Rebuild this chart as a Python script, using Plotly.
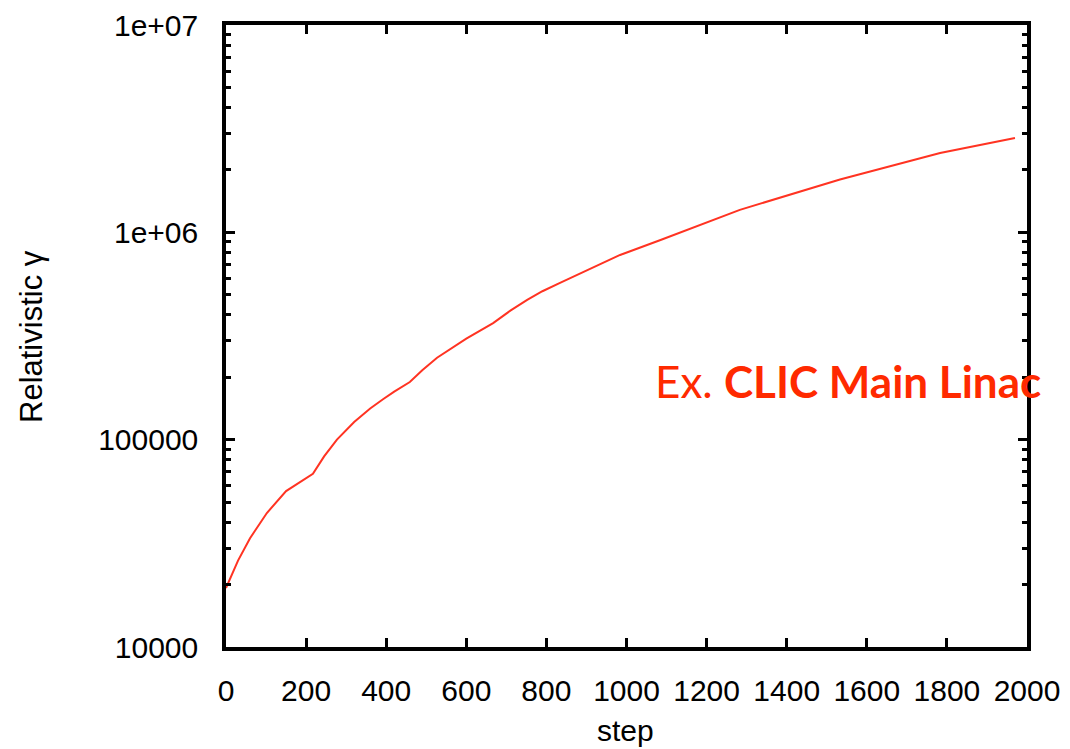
import plotly.graph_objects as go

# Data
steps = [0, 30, 60, 102, 150, 217, 245, 277, 320, 360, 392, 420, 459, 490, 527, 600, 667,
         710, 752, 790, 834, 875, 984, 1085, 1151, 1283, 1533, 1620, 1783, 1970]
gamma = [19250, 26090, 33450, 44280, 56470, 68400, 83000, 100000, 121600, 141300, 156700,
         170600, 189700, 216300, 248300, 306900, 365000, 419000, 472000, 520000, 570000,
         621000, 778000, 918000, 1028000, 1283000, 1799000, 1995000, 2415000, 2852000]

x_ticks = [0, 200, 400, 600, 800, 1000, 1200, 1400, 1600, 1800, 2000]
y_tickvals = [10000, 100000, 1000000, 10000000]
y_ticktext = ["10000", "100000", "1e+06", "1e+07"]
y_minor = [m * 10 ** e for e in range(4, 7) for m in range(2, 10)]

W, H = 1070, 749
L, R, T, B = 226, 1027, 25, 647

def px(x):
    return (x - L) / (R - L)

def py(y):
    return (B - y) / (B - T)

FONT = "Liberation Sans, Arial, Helvetica, sans-serif"

fig = go.Figure()
fig.add_trace(go.Scatter(x=steps, y=gamma, mode="lines",
                         line=dict(color="#ff3322", width=2), showlegend=False))

fig.update_layout(
    width=W, height=H,
    margin=dict(l=L, r=W - R, t=T, b=H - B, autoexpand=False),
    paper_bgcolor="white", plot_bgcolor="white",
    font=dict(family=FONT, size=30, color="black"),
    xaxis=dict(range=[0, 2000], tickvals=x_ticks, ticks="inside", ticklen=9, tickwidth=2.5,
               tickcolor="black", showline=True, linecolor="black", linewidth=3.5,
               mirror="ticks", showgrid=False, zeroline=False, ticklabelstandoff=14,
               tickfont=dict(size=30), automargin=False),
    yaxis=dict(type="log", range=[4, 7], tickvals=y_tickvals, ticktext=y_ticktext,
               ticks="inside", ticklen=9, tickwidth=2.5, tickcolor="black",
               showline=True, linecolor="black", linewidth=3.5, mirror="ticks",
               showgrid=False, zeroline=False, ticklabelstandoff=18,
               tickfont=dict(size=30), automargin=False,
               minor=dict(tickvals=y_minor, ticks="inside", ticklen=5, tickwidth=2.5,
                          tickcolor="black", showgrid=False)),
    annotations=[
        dict(text="Relativistic γ", xref="paper", yref="paper", x=px(31), y=py(337),
             textangle=-90, showarrow=False, font=dict(size=31, family=FONT),
             xanchor="center", yanchor="middle"),
        dict(text="step", xref="paper", yref="paper", x=px(625), y=py(730),
             showarrow=False, font=dict(size=30, family=FONT),
             xanchor="center", yanchor="middle"),
        dict(text="Ex. <b>CLIC Main Linac</b>", xref="paper", yref="paper",
             x=px(653), y=py(381), showarrow=False, xanchor="left", yanchor="middle",
             font=dict(size=44, family="Lato, Open Sans, sans-serif", color="#ff2a00")),
    ],
)

fig.write_html("out.html")
